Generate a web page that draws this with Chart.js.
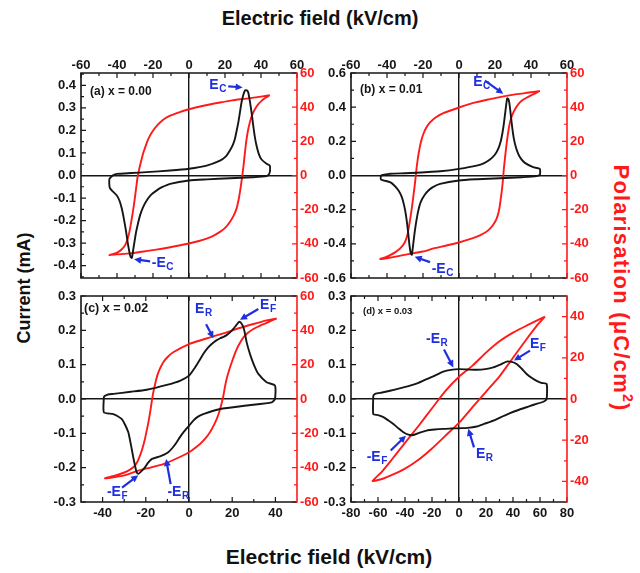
<!DOCTYPE html>
<html>
<head>
<meta charset="utf-8">
<script src="https://cdn.jsdelivr.net/npm/chart.js@4.4.1/dist/chart.umd.min.js"></script>
<style>
  body { margin: 0; width: 640px; height: 573px; background: #fff; position: relative; overflow: hidden;
         font-family: 'Liberation Sans', Arial, sans-serif; }
  .panel { position: absolute; width: 300px; height: 245px; }
  .title { position: absolute; font-weight: bold; white-space: nowrap; color: #111; }
</style>
</head>
<body>
<div class="title" style="left:0;width:640px;text-align:center;top:7px;font-size:20px;">Electric field (kV/cm)</div>
<div class="title" style="left:0;width:658px;text-align:center;top:545px;font-size:21px;">Electric field (kV/cm)</div>
<div class="title" style="left:24px;top:288px;font-size:18px;transform:translate(-50%,-50%) rotate(-90deg);">Current (mA)</div>
<div class="title" style="left:622px;top:288px;font-size:22px;letter-spacing:1.2px;color:#ff1a1a;transform:translate(-50%,-50%) rotate(90deg);">Polarisation (&mu;C/cm<sup style="font-size:14px;">2</sup>)</div>

<div class="panel" style="left:38px;top:45px;"><canvas id="cA" width="300" height="245"></canvas></div>
<div class="panel" style="left:308px;top:45px;"><canvas id="cB" width="300" height="245"></canvas></div>
<div class="panel" style="left:38px;top:284px;"><canvas id="cC" width="300" height="245"></canvas></div>
<div class="panel" style="left:308px;top:284px;"><canvas id="cD" width="300" height="245"></canvas></div>

<script>
// tick labels
const fieldTicksAB = [-60, -40, -20, 0, 20, 40, 60];
const fieldTicksC = [-40, -20, 0, 20, 40];
const fieldTicksD = [-80, -60, -40, -20, 0, 20, 40, 60, 80];
const currentTicksA = [-0.4, -0.3, -0.2, -0.1, 0, 0.1, 0.2, 0.3, 0.4];
const currentTicksB = [-0.6, -0.4, -0.2, 0, 0.2, 0.4, 0.6];
const currentTicksCD = [-0.3, -0.2, -0.1, 0, 0.1, 0.2, 0.3];
const polarTicksABC = [-60, -40, -20, 0, 20, 40, 60];
const polarTicksD = [-40, -20, 0, 20, 40];

// (a) x = 0.00  -- current loop (kV/cm, mA), then polarisation loop (kV/cm, uC/cm2)
const fieldA_I = [-42, -40.1, -32, -23.5, -10.5, 0, 9.8, 17.2, 20.5, 22.7, 24.3, 25.5, 26.5, 27.4, 28.3, 29.2, 30.2, 31.1, 32.1, 32.9,
                  33.6, 34.2, 35, 35.7, 36.5, 37.5, 38.8, 40.3, 43.1, 44.9, 45, 44.5, 43.1,
                  35, 22.7, 10, 0, -10.5, -15, -17.9, -21, -23.5, -25.5, -27.2, -28.4, -29.4, -30.2, -30.9, -31.4, -31.8, -32.5, -33.1, -34,
                  -34.9, -36, -37.3, -38.6, -40.1, -42.9, -44, -44.3, -44.2, -42];
const currentA = [0.003, 0.007, 0.011, 0.015, 0.022, 0.03, 0.044, 0.066, 0.085, 0.111, 0.135, 0.162, 0.2, 0.236, 0.28, 0.325, 0.358, 0.377, 0.378, 0.369,
                  0.34, 0.31, 0.265, 0.221, 0.175, 0.133, 0.095, 0.071, 0.052, 0.044, 0.02, 0.007, -0.003,
                  -0.008, -0.012, -0.017, -0.022, -0.037, -0.052, -0.066, -0.085, -0.111, -0.14, -0.177, -0.215, -0.251, -0.29, -0.325, -0.352, -0.366, -0.36, -0.34, -0.3,
                  -0.251, -0.2, -0.148, -0.112, -0.089, -0.066, -0.055, -0.035, -0.015, 0.003];
const fieldA_P = [44.9, 40, 32, 24, 17.2, 8, 0, -5.5, -10.5, -14.5, -17.9, -20.5, -22.6, -24, -25.3, -26.3, -27.2, -28, -28.7, -29.3,
                  -29.9, -30.5, -31.2, -32.1, -33.1, -34.2, -35.5, -37.2, -39.2, -41.5, -44.2,
                  -40, -32.7, -24, -14.2, -7, 0, 5, 9.8, 14, 17.2, 20.2, 22.7, 24.8, 26.4, 27.5, 28.3, 29, 29.6, 30.2, 30.7,
                  31.3, 32, 32.8, 33.8, 35, 36.6, 38.3, 40.3, 42.5, 44.9];
const polarA = [47, 46.2, 45, 44, 42.7, 40.8, 38.8, 37, 35, 32.5, 29.1, 25.5, 21.4, 17.5, 13.6, 9.7, 5.8, 2, -1.9, -6.8,
                -11.7, -16.5, -21.4, -27.2, -33, -37.5, -40.8, -43, -44.7, -45.8, -46.6,
                -46.2, -45.6, -44.3, -42.7, -41.3, -39.8, -38.5, -36.9, -35, -33, -30.5, -27.2, -23.5, -19.4, -14.5, -9.7, -4.8, 0, 4.9, 9.7,
                15.5, 21.4, 26.5, 31.1, 35.2, 38.8, 41.5, 43.7, 45.5, 47];

// (b) x = 0.01
const fieldB_I = [-43.4, -38.3, -30, -23.5, -10.5, 0, 9.8, 14, 17.2, 19.8, 21.8, 23.2, 24.2, 25, 25.7, 26.3, 26.8, 27.4, 27.9, 28.5,
                  29, 29.7, 30.5, 31.6, 32.9, 34.5, 36.6, 41.2, 44.9, 44.9, 43.1,
                  35, 22.7, 10, 0, -10.5, -14.5, -17, -19.3, -21.3, -22.7, -23.8, -24.6, -25.3, -25.8, -26.2, -26.8, -27.5, -28.1, -28.7, -29.5,
                  -30.5, -31.8, -33.6, -35.8, -38.3, -43.4, -43.4];
const currentB = [0, 0.01, 0.013, 0.016, 0.025, 0.039, 0.058, 0.073, 0.094, 0.12, 0.156, 0.2, 0.253, 0.31, 0.37, 0.42, 0.452, 0.448, 0.429, 0.38,
                  0.331, 0.27, 0.214, 0.165, 0.127, 0.097, 0.074, 0.049, 0.039, 0.005, -0.004,
                  -0.01, -0.016, -0.022, -0.029, -0.049, -0.068, -0.088, -0.117, -0.156, -0.21, -0.273, -0.33, -0.39, -0.435, -0.464, -0.455, -0.409, -0.35, -0.292, -0.23,
                  -0.175, -0.125, -0.088, -0.06, -0.039, -0.023, 0];
const fieldB_P = [44.9, 40, 32, 24, 17.2, 8, 0, -8.7, -13, -16.1, -18.3, -19.8, -20.8, -21.6, -22.3, -22.9, -23.5, -24, -24.6, -25.3,
                  -26, -26.8, -27.7, -28.7, -30.3, -32.7, -35.5, -38.3, -41, -43.8,
                  -38, -29, -20, -14.2, -7, 0, 6, 11.6, 14.8, 17.2, 19.2, 20.9, 22, 22.7, 23.2, 23.7, 24.2, 24.6, 25, 25.5,
                  26.1, 26.8, 27.5, 28.3, 29.5, 31.1, 32.8, 34.8, 37.5, 40.3, 44.9];
const polarB = [49.5, 48.7, 47.6, 46.2, 44.7, 42.5, 39.8, 36.5, 34, 31.1, 27.8, 24.3, 21, 17.5, 13.6, 9.7, 4.9, 0, -5.8, -11.7,
                -17.5, -23.3, -29.2, -35, -39.5, -42.7, -45, -46.6, -47.9, -48.9,
                -48, -46.2, -44.5, -42.7, -41, -39.2, -37.3, -35, -33.2, -31.1, -28.5, -25.2, -21.5, -17.5, -13.6, -9.7, -4.9, 0, 4.9, 9.7,
                15.5, 21.4, 26.5, 31.1, 35.2, 38.8, 41.5, 43.7, 45.5, 47, 49.5];

// (c) x = 0.02
const fieldC_I = [-39.4, -37.5, -35, -27, -19.6, -10.3, -4.2, 0, 2.8, 4.8, 6.6, 8.6, 10.5, 12.5, 14.4, 16, 17.4, 19, 20.5, 22,
                  23.3, 24.3, 25.2, 26, 26.7, 27.8, 29, 30.5, 32.1, 35.9, 39.8, 39.8, 38.3,
                  26.7, 14.4, 6.6, 4, 2, 0, -2.6, -4.2, -5.7, -7.6, -9.6, -11.5, -13.4, -15.4, -17.3, -19, -20.4, -22, -23.5, -24.3,
                  -25, -25.8, -26.5, -27.3, -28.1, -29.6, -31.2, -35, -39.4, -39.4];
const currentC = [0.008, 0.013, 0.015, 0.021, 0.027, 0.041, 0.053, 0.068, 0.092, 0.112, 0.131, 0.148, 0.16, 0.17, 0.177, 0.181, 0.186, 0.194, 0.204, 0.216,
                  0.225, 0.22, 0.209, 0.188, 0.165, 0.14, 0.117, 0.093, 0.073, 0.049, 0.039, 0, -0.01,
                  -0.019, -0.029, -0.044, -0.052, -0.063, -0.078, -0.097, -0.111, -0.126, -0.142, -0.155, -0.162, -0.167, -0.171, -0.175, -0.186, -0.199, -0.21, -0.218, -0.212,
                  -0.194, -0.17, -0.146, -0.12, -0.097, -0.075, -0.058, -0.044, -0.039, 0.008];
const fieldC_P = [40.6, 36, 29.8, 23, 17.4, 9.7, 0, -7.3, -10, -11.9, -13.5, -14.7, -15.5, -16.2, -16.8, -17.3, -18, -18.8, -19.6, -20.4,
                  -21.5, -22.7, -24, -25.8, -28.5, -31.9, -35.5, -38.9,
                  -35, -29.5, -23.5, -17.5, -11.9, -6, 0, 5.1, 7.6, 9.7, 11.4, 12.8, 13.7, 14.4, 15.2, 15.9, 16.6, 17.4, 18.5, 19.8,
                  20.9, 22.1, 23.5, 25.2, 27.3, 29.8, 33, 36, 40.6];
const polarC = [47, 45.8, 43.7, 41.2, 38.8, 35.9, 32, 27.2, 24.3, 21.4, 17.5, 13.6, 9.7, 5.8, 2, -1.9, -7.8, -13.6, -18.5, -23.3,
                -28.5, -33, -36.8, -39.8, -42, -43.7, -45, -46.2,
                -45.6, -44.3, -41.7, -39.8, -37.9, -34.8, -31, -26.2, -23, -19.4, -15.5, -11.7, -8.7, -5.8, -2, 1.9, 6.8, 11.7, 16.5, 21.4,
                25.3, 29.1, 32.5, 35.9, 38.6, 40.8, 42.8, 44.3, 47];

// (d) x = 0.03
const fieldD_I = [-63.5, -62.2, -57, -51.1, -44, -36.3, -30, -24, -17.5, -11.6, -6, 0, 6.5, 13.1, 19.5, 25.4, 30.5, 35.3, 39, 42.7,
                  46.5, 50.1, 54, 57.5, 61, 64.9, 64.9, 62.5,
                  56, 50.1, 44, 37.8, 31.5, 25.4, 19, 13.1, 6.5, 0, -6, -11.6, -18, -24, -29, -33.8, -37.5, -41.2, -45, -48.6,
                  -52.5, -56, -60, -63.5, -63.5];
const currentD = [0.01, 0.015, 0.019, 0.024, 0.031, 0.039, 0.047, 0.058, 0.069, 0.08, 0.085, 0.087, 0.086, 0.085, 0.087, 0.092, 0.1, 0.109, 0.108, 0.102,
                  0.088, 0.073, 0.061, 0.053, 0.047, 0.044, 0, -0.008,
                  -0.016, -0.024, -0.032, -0.041, -0.052, -0.063, -0.072, -0.08, -0.084, -0.085, -0.086, -0.087, -0.089, -0.092, -0.098, -0.105, -0.104, -0.097, -0.085, -0.073,
                  -0.062, -0.053, -0.047, -0.044, 0.01];
const fieldD_P = [63.7, 57.5, 50, 40, 30, 20, 10, 0, -10, -20, -30, -40, -50, -57, -64,
                  -60, -56, -50, -40, -30, -20, -10, 0, 10, 15, 20, 30, 40, 50, 57.5, 63.7];
const polarD = [40, 38, 35.6, 32.2, 28, 22.5, 16.2, 10.8, 3.9, -4.5, -13.1, -21.3, -29.6, -35.2, -39.8,
                -39.3, -38.6, -37, -33.8, -29.5, -24, -17.8, -11.6, -4, -0.2, 3.5, 11, 20, 29, 35.5, 40];

const FONT = "'Liberation Sans', Arial, sans-serif";
const BLUE = '#1f2fe0';
const RED = '#ff1a1a';
const INK = '#161616';

Chart.defaults.font.family = FONT;

// blue arrow labels, placed in field / current units
const notesA = [
  { t: 'E', s: 'C', at: [11.3, 0.399], from: [21.8, 0.396], to: [29.8, 0.391] },
  { t: '-E', s: 'C', at: [-20.7, -0.391], from: [-21.6, -0.381], to: [-30.5, -0.372] }
];
const notesB = [
  { t: 'E', s: 'C', at: [7.9, 0.546], from: [14.4, 0.556], to: [24.6, 0.478] },
  { t: '-E', s: 'C', at: [-15.2, -0.546], from: [-16.1, -0.507], to: [-24.6, -0.476] }
];
const notesC = [
  { t: 'E', s: 'R', at: [2.8, 0.262], from: [7.9, 0.218], to: [11.3, 0.177] },
  { t: 'E', s: 'F', at: [32.9, 0.272], from: [32.1, 0.262], to: [23.6, 0.231] },
  { t: '-E', s: 'F', at: [-38, -0.272], from: [-31, -0.258], to: [-23.5, -0.222] },
  { t: '-E', s: 'R', at: [-10, -0.272], from: [-8.5, -0.248], to: [-10.6, -0.175] }
];
const notesD = [
  { t: '-E', s: 'R', at: [-24.4, 0.175], from: [-11.1, 0.144], to: [-4.2, 0.092] },
  { t: 'E', s: 'F', at: [52.6, 0.16], from: [52.6, 0.141], to: [40.7, 0.112] },
  { t: '-E', s: 'F', at: [-68.4, -0.17], from: [-50.6, -0.15], to: [-39.3, -0.107] },
  { t: 'E', s: 'R', at: [12.6, -0.16], from: [11.1, -0.141], to: [6.9, -0.087] }
];

const zip = (xs, ys) => xs.map((x, i) => ({ x, y: ys[i] }));

function drawMarks(ctx, scale, color, edges, horizontal) {
  const vals = scale.ticks.map(t => t.value);
  const step = vals[1] - vals[0];
  const minors = [];
  for (let k = -1; k < vals.length; k++) {
    const v = vals[0] + step * (k + 0.5);
    if (v > scale.min + 1e-9 && v < scale.max - 1e-9) minors.push(v);
  }
  ctx.strokeStyle = color;
  ctx.lineWidth = 1.2;
  ctx.beginPath();
  [[vals, 5], [minors, 3]].forEach(([list, len]) => list.forEach(v => {
    const p = scale.getPixelForValue(v);
    edges.forEach(([e, dir]) => {
      if (horizontal) { ctx.moveTo(p, e); ctx.lineTo(p, e + dir * len); }
      else { ctx.moveTo(e, p); ctx.lineTo(e + dir * len, p); }
    });
  }));
  ctx.stroke();
}

function framePlugin(panel) {
  return {
    id: 'frame',
    afterDatasetsDraw(chart) {
      const { ctx, chartArea: a, scales } = chart;
      ctx.save();
      drawMarks(ctx, scales.x, INK, [[a.top, 1], [a.bottom, -1]], true);
      drawMarks(ctx, scales.y, INK, [[a.left, 1]], false);
      drawMarks(ctx, scales.y2, RED, [[a.right, -1]], false);

      ctx.lineWidth = 1.6;
      ctx.strokeStyle = INK;
      ctx.beginPath();
      ctx.moveTo(a.right, a.top); ctx.lineTo(a.left, a.top);
      ctx.lineTo(a.left, a.bottom); ctx.lineTo(a.right, a.bottom);
      ctx.stroke();
      ctx.strokeStyle = RED;
      ctx.beginPath();
      ctx.moveTo(a.right, a.top - 0.8); ctx.lineTo(a.right, a.bottom + 0.8);
      ctx.stroke();

      // panel label
      ctx.fillStyle = INK;
      ctx.font = `bold ${panel.labelSize}px ${FONT}`;
      ctx.textBaseline = 'middle';
      ctx.textAlign = 'left';
      ctx.fillText(panel.label, a.left + panel.labelAt[0], a.top + panel.labelAt[1]);

      // arrows and E labels
      ctx.fillStyle = BLUE;
      ctx.strokeStyle = BLUE;
      panel.notes.forEach(n => {
        const tx = scales.x.getPixelForValue(n.at[0]);
        const ty = scales.y.getPixelForValue(n.at[1]);
        ctx.font = `bold 14px ${FONT}`;
        ctx.fillText(n.t, tx, ty);
        const w = ctx.measureText(n.t).width;
        ctx.font = `bold 10px ${FONT}`;
        ctx.fillText(n.s, tx + w + 0.5, ty + 4);

        const x0 = scales.x.getPixelForValue(n.from[0]), y0 = scales.y.getPixelForValue(n.from[1]);
        const x1 = scales.x.getPixelForValue(n.to[0]), y1 = scales.y.getPixelForValue(n.to[1]);
        const ang = Math.atan2(y1 - y0, x1 - x0);
        const c = Math.cos(ang), s = Math.sin(ang);
        ctx.lineWidth = 2.2;
        ctx.beginPath();
        ctx.moveTo(x0, y0);
        ctx.lineTo(x1 - 5 * c, y1 - 5 * s);
        ctx.stroke();
        ctx.beginPath();
        ctx.moveTo(x1, y1);
        ctx.lineTo(x1 - 7 * c + 3.5 * s, y1 - 7 * s - 3.5 * c);
        ctx.lineTo(x1 - 7 * c - 3.5 * s, y1 - 7 * s + 3.5 * c);
        ctx.closePath();
        ctx.fill();
      });
      ctx.restore();
    }
  };
}

const zeroLine = c => (c.tick && c.tick.value === 0) ? INK : 'rgba(0,0,0,0)';
const noPad = s => { s.paddingTop = 0; s.paddingBottom = 0; s.paddingLeft = 0; s.paddingRight = 0; };
const tickFont = { size: 13, weight: 'bold' };

function makePanel(p) {
  const top = p.xPos === 'top';
  new Chart(document.getElementById(p.id), {
    type: 'scatter',
    data: {
      datasets: [
        { data: zip(p.fieldI, p.current), yAxisID: 'y', showLine: true, borderColor: INK, borderWidth: 1.9,
          pointRadius: 0, tension: 0.2, fill: false },
        { data: zip(p.fieldP, p.polar), yAxisID: 'y2', showLine: true, borderColor: RED, borderWidth: 1.9,
          pointRadius: 0, tension: 0.2, fill: false }
      ]
    },
    options: {
      responsive: false,
      animation: false,
      layout: { padding: { top: top ? 0 : 12, bottom: top ? 12 : 0, left: 0, right: 0 } },
      scales: {
        x: {
          type: 'linear', position: p.xPos, min: p.xMin, max: p.xMax,
          afterBuildTicks: s => { s.ticks = p.xTicks.map(v => ({ value: v })); },
          afterFit: s => { s.height = top ? 28 : 27; noPad(s); },
          grid: { drawTicks: false, color: zeroLine, lineWidth: 1.4 },
          border: { display: false },
          ticks: { font: tickFont, color: INK, padding: top ? 0 : 4, maxRotation: 0, callback: v => String(v) }
        },
        y: {
          type: 'linear', position: 'left', min: p.iMin, max: p.iMax,
          afterBuildTicks: s => { s.ticks = p.iTicks.map(v => ({ value: v })); },
          afterFit: s => { s.width = 43; noPad(s); },
          grid: { drawTicks: false, color: zeroLine, lineWidth: 1.4 },
          border: { display: false },
          ticks: { font: tickFont, color: INK, padding: 5, callback: v => Number(v).toFixed(1) }
        },
        y2: {
          type: 'linear', position: 'right', min: p.pMin, max: p.pMax,
          afterBuildTicks: s => { s.ticks = p.pTicks.map(v => ({ value: v })); },
          afterFit: s => { s.width = 41; noPad(s); },
          grid: { display: false, drawTicks: false },
          border: { display: false },
          ticks: { font: tickFont, color: RED, padding: 3, callback: v => String(v) }
        }
      },
      plugins: { legend: { display: false }, tooltip: { enabled: false } }
    },
    plugins: [framePlugin(p)]
  });
}

makePanel({ id: 'cA', xPos: 'top', xMin: -60, xMax: 60, xTicks: fieldTicksAB,
  iMin: -0.455, iMax: 0.455, iTicks: currentTicksA, pMin: -60, pMax: 60, pTicks: polarTicksABC,
  fieldI: fieldA_I, current: currentA, fieldP: fieldA_P, polar: polarA,
  label: '(a) x = 0.00', labelSize: 12, labelAt: [9, 19], notes: notesA });
makePanel({ id: 'cB', xPos: 'top', xMin: -60, xMax: 60, xTicks: fieldTicksAB,
  iMin: -0.6, iMax: 0.6, iTicks: currentTicksB, pMin: -60, pMax: 60, pTicks: polarTicksABC,
  fieldI: fieldB_I, current: currentB, fieldP: fieldB_P, polar: polarB,
  label: '(b) x = 0.01', labelSize: 12, labelAt: [9, 17], notes: notesB });
makePanel({ id: 'cC', xPos: 'bottom', xMin: -50, xMax: 50, xTicks: fieldTicksC,
  iMin: -0.3, iMax: 0.3, iTicks: currentTicksCD, pMin: -60, pMax: 60, pTicks: polarTicksABC,
  fieldI: fieldC_I, current: currentC, fieldP: fieldC_P, polar: polarC,
  label: '(c) x = 0.02', labelSize: 12.5, labelAt: [3, 13], notes: notesC });
makePanel({ id: 'cD', xPos: 'bottom', xMin: -80, xMax: 80, xTicks: fieldTicksD,
  iMin: -0.3, iMax: 0.3, iTicks: currentTicksCD, pMin: -50, pMax: 50, pTicks: polarTicksD,
  fieldI: fieldD_I, current: currentD, fieldP: fieldD_P, polar: polarD,
  label: '(d) x = 0.03', labelSize: 9.5, labelAt: [12, 15], notes: notesD });
</script>
</body>
</html>
